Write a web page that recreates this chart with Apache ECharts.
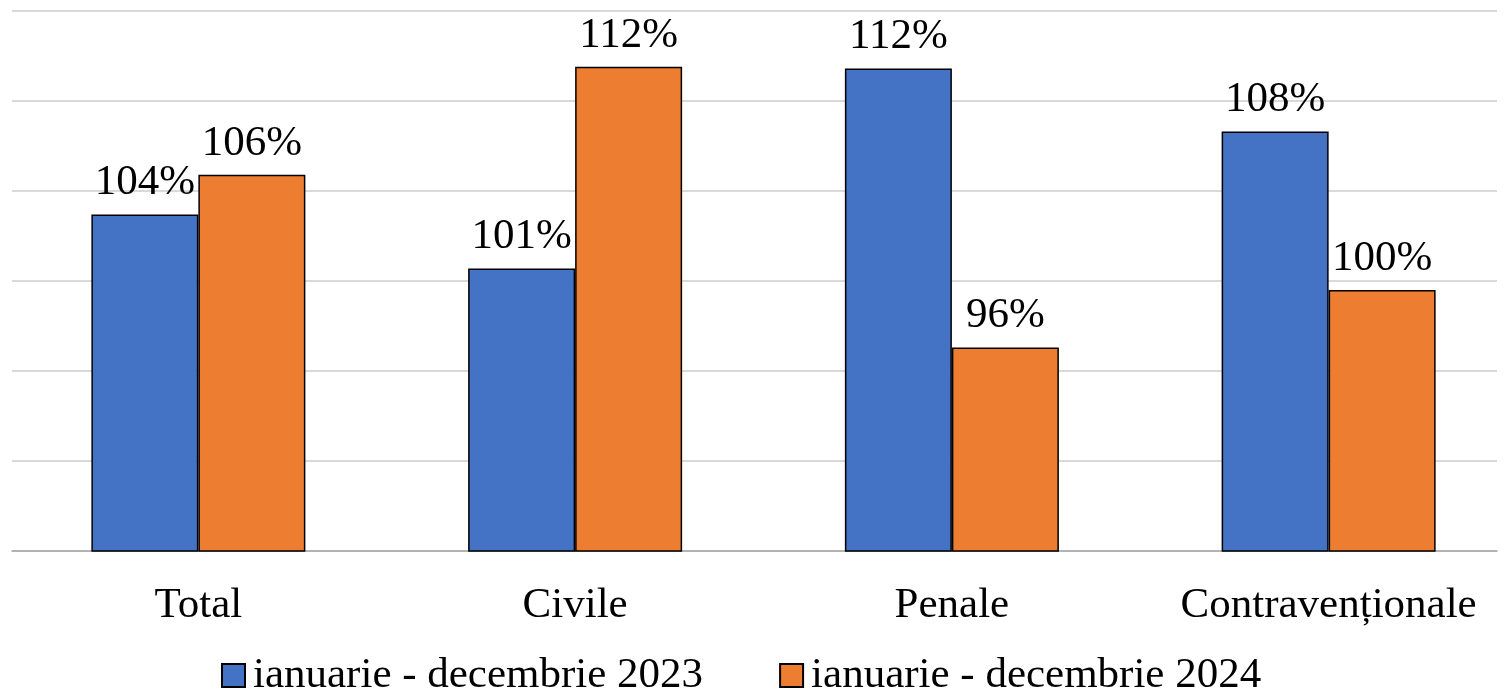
<!DOCTYPE html>
<html>
<head>
<meta charset="utf-8">
<script src="https://cdn.jsdelivr.net/npm/echarts@6/dist/echarts.min.js"></script>
<style>
html,body{margin:0;padding:0;background:#fff;overflow:hidden;width:1505px;height:691px;}
#c{width:1530px;height:691px;}
</style>
</head>
<body>
<div id="c"></div>
<script>
const categories = ['Total', 'Civile', 'Penale', 'Contravenționale'];
const seriesNames = ['ianuarie - decembrie 2023', 'ianuarie - decembrie 2024'];
const values2023 = [103.7, 100.7, 111.8, 108.3];
const values2024 = [105.9, 111.9, 96.3, 99.5];
const yMin = 85, yMax = 115, yStep = 5;

const FONT = '"Liberation Serif", "Times New Roman", serif';
const chart = echarts.init(document.getElementById('c'));
const labelCfg = {
  show: true,
  position: 'top',
  distance: 10,
  color: '#000',
  fontFamily: FONT,
  fontSize: 43,
  formatter: p => Math.round(p.value) + '%'
};
chart.setOption({
  animation: false,
  backgroundColor: '#fff',
  grid: [
    { left: 12, width: 1485, top: 11, bottom: 140 },
    { left: 10, width: 1507, top: 11, bottom: 140 }
  ],
  legend: {
    bottom: -11,
    left: 216,
    itemWidth: 23,
    itemHeight: 23,
    itemGap: 76,
    icon: 'rect',
    textStyle: { fontFamily: FONT, fontSize: 43, color: '#000', padding: [0, 0, 0, 3] },
    data: seriesNames
  },
  xAxis: [
    {
      gridIndex: 0,
      type: 'value',
      min: 0, max: 1,
      axisLine: { show: true, onZero: false, lineStyle: { color: '#a6a6a6', width: 1.5 } },
      axisTick: { show: false },
      axisLabel: { show: false },
      splitLine: { show: false }
    },
    {
      gridIndex: 1,
      type: 'category',
      data: categories,
      axisLine: { show: false },
      axisTick: { show: false },
      axisLabel: { color: '#000', fontFamily: FONT, fontSize: 43, margin: 33, interval: 0 }
    }
  ],
  yAxis: [
    {
      gridIndex: 0,
      type: 'value',
      min: yMin, max: yMax, interval: yStep,
      axisLabel: { show: false },
      axisLine: { show: false },
      axisTick: { show: false },
      splitLine: { lineStyle: { color: '#cdcdcd', width: 1.5 } }
    },
    {
      gridIndex: 1,
      type: 'value',
      min: yMin, max: yMax, interval: yStep,
      axisLabel: { show: false },
      axisLine: { show: false },
      axisTick: { show: false },
      splitLine: { show: false }
    }
  ],
  series: [
    {
      name: seriesNames[0],
      type: 'bar',
      xAxisIndex: 1, yAxisIndex: 1,
      data: values2023,
      barWidth: 107,
      barGap: '0%',
      itemStyle: { color: '#4472C4', borderColor: '#000', borderWidth: 1.5 },
      label: labelCfg
    },
    {
      name: seriesNames[1],
      type: 'bar',
      xAxisIndex: 1, yAxisIndex: 1,
      data: values2024,
      barWidth: 107,
      barGap: '0%',
      itemStyle: { color: '#ED7D31', borderColor: '#000', borderWidth: 1.5 },
      label: labelCfg
    }
  ]
});
</script>
</body>
</html>
